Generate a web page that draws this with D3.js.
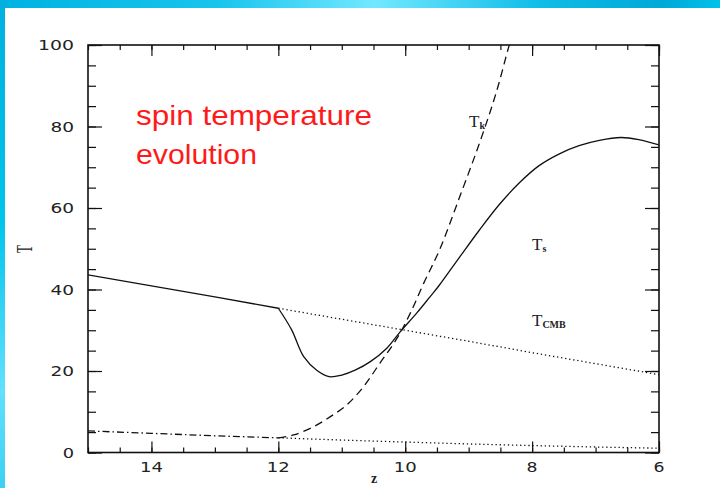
<!DOCTYPE html>
<html>
<head>
<meta charset="utf-8">
<script src="https://cdn.jsdelivr.net/npm/d3@7"></script>
<style>
  body { margin: 0; background: #fff; }
  svg { display: block; }
</style>
</head>
<body>
<div id="spin-chart"></div>
<script>
// spin temperature evolution - T vs z

// ---- data ----
// Ts, coupled to Tcmb at high z
var tsHighZ = [15, 14, 13, 12]
var tsHighT = [43.6, 40.9, 38.2, 35.4]
// Ts after the drop
var tsLowZ = [12, 11.79, 11.6, 11.39, 11.2, 11.0, 10.79, 10.55, 10.29, 10.08, 9.82, 9.61, 9.46, 9.14, 8.83, 8.52, 8.2, 7.89, 7.57, 7.26, 6.94, 6.6, 6.32, 6]
var tsLowT = [35.4, 30.1, 23.5, 20.1, 18.6, 19.0, 20.2, 22.3, 25.6, 29.6, 34.2, 38.2, 41.1, 48.0, 54.6, 60.8, 66.2, 70.4, 73.3, 75.3, 76.6, 77.3, 76.8, 75.5]
// Tcmb continued (dotted)
var cmbZ = [12, 11, 10, 9, 8, 7, 6]
var cmbT = [35.4, 32.7, 30.0, 27.3, 24.5, 21.8, 19.1]
// Tk adiabatic before heating (dash-dot)
var tkAdiaZ = [15, 14, 13, 12]
var tkAdiaT = [5.3, 4.7, 4.1, 3.6]
// Tk without heating (dotted)
var tkColdZ = [12, 11, 10, 9, 8, 7, 6]
var tkColdT = [3.6, 3.05, 2.56, 2.1, 1.7, 1.35, 1.05]
// Tk heated (dashed)
var tkHotZ = [12, 11.76, 11.45, 11.18, 10.92, 10.66, 10.4, 10.13, 9.92, 9.71, 9.46, 9.14, 8.83, 8.57, 8.36, 8.28]
var tkHotT = [3.6, 4.3, 6.3, 8.8, 11.7, 16.1, 21.9, 28.0, 34.2, 41.5, 49.7, 62.8, 75.9, 88.1, 100, 104]

var xTicks = [14, 12, 10, 8, 6]
var yTicks = [0, 20, 40, 60, 80, 100]

var title = ["spin temperature", "evolution"]

function pairs(zs, ts) {
  return zs.map(function(z, i) { return {z: z, t: ts[i]} })
}

var W = 720, H = 488
var plot = {left: 88, right: 659, top: 45, bottom: 452.5}

var svg = d3.select("#spin-chart")
  .append("svg")
    .attr("width", W)
    .attr("height", H)

// ---- slide background: blue strips top and left ----
var defs = svg.append("defs")
var gTop = defs.append("linearGradient").attr("id", "bandTop")
  .attr("x1", "0").attr("x2", "1").attr("y1", "0").attr("y2", "0")
gTop.append("stop").attr("offset", "0").attr("stop-color", "#00b2e2")
gTop.append("stop").attr("offset", "0.3").attr("stop-color", "#18c4ec")
gTop.append("stop").attr("offset", "0.52").attr("stop-color", "#72e8ff")
gTop.append("stop").attr("offset", "0.75").attr("stop-color", "#10bce8")
gTop.append("stop").attr("offset", "0.92").attr("stop-color", "#00a8d8")
gTop.append("stop").attr("offset", "1").attr("stop-color", "#00c2ea")

var gLeft = defs.append("linearGradient").attr("id", "bandLeft")
  .attr("x1", "0").attr("x2", "0").attr("y1", "0").attr("y2", "1")
gLeft.append("stop").attr("offset", "0").attr("stop-color", "#00b0e0")
gLeft.append("stop").attr("offset", "0.45").attr("stop-color", "#00c4ea")
gLeft.append("stop").attr("offset", "0.8").attr("stop-color", "#62e0ff")
gLeft.append("stop").attr("offset", "1").attr("stop-color", "#3cd0f2")

svg.append("rect").attr("x", 0).attr("y", 0).attr("width", W).attr("height", 8)
  .style("fill", "url(#bandTop)")
svg.append("rect").attr("x", 0).attr("y", 0).attr("width", 5).attr("height", H)
  .style("fill", "url(#bandLeft)")

// ---- scales ----
var x = d3.scaleLinear().domain([15, 6]).range([plot.left, plot.right])
var y = d3.scaleLinear().domain([0, 100]).range([plot.bottom, plot.top])

defs.append("clipPath").attr("id", "plotClip")
  .append("rect")
    .attr("x", plot.left).attr("y", plot.top)
    .attr("width", plot.right - plot.left)
    .attr("height", plot.bottom - plot.top)

// ---- frame + ticks on all four sides (pointing in) ----
var frame = svg.append("g")

var xMinor = d3.range(15, 5.9, -0.5)
var yMinor = d3.range(0, 100.1, 5)

frame.append("g")
  .attr("transform", "translate(0," + plot.bottom + ")")
  .call(d3.axisTop(x).tickValues(xMinor).tickSize(5).tickFormat(""))
frame.append("g")
  .attr("transform", "translate(0," + plot.bottom + ")")
  .call(d3.axisTop(x).tickValues(xTicks).tickSize(11).tickFormat(""))
frame.append("g")
  .attr("transform", "translate(0," + plot.top + ")")
  .call(d3.axisBottom(x).tickValues(xMinor).tickSize(5).tickFormat(""))
frame.append("g")
  .attr("transform", "translate(0," + plot.top + ")")
  .call(d3.axisBottom(x).tickValues(xTicks).tickSize(11).tickFormat(""))

frame.append("g")
  .attr("transform", "translate(" + plot.left + ",0)")
  .call(d3.axisRight(y).tickValues(yMinor).tickSize(8).tickFormat(""))
frame.append("g")
  .attr("transform", "translate(" + plot.left + ",0)")
  .call(d3.axisRight(y).tickValues(yTicks).tickSize(14).tickFormat(""))
frame.append("g")
  .attr("transform", "translate(" + plot.right + ",0)")
  .call(d3.axisLeft(y).tickValues(yMinor).tickSize(8).tickFormat(""))
frame.append("g")
  .attr("transform", "translate(" + plot.right + ",0)")
  .call(d3.axisLeft(y).tickValues(yTicks).tickSize(14).tickFormat(""))

frame.selectAll(".domain").remove()
frame.selectAll("line").attr("stroke", "#111").attr("stroke-width", 1.2)

frame.append("rect")
  .attr("x", plot.left).attr("y", plot.top)
  .attr("width", plot.right - plot.left)
  .attr("height", plot.bottom - plot.top)
  .style("fill", "none")
  .style("stroke", "#111")
  .style("stroke-width", 1.6)

// tick labels (wide, rounded digits)
var labelFont = "'DejaVu Sans', sans-serif"
svg.selectAll("xlab")
  .data(xTicks)
  .enter()
  .append("text")
    .attr("x", function(d) { return x(d) })
    .attr("y", 472)
    .attr("text-anchor", "middle")
    .attr("textLength", function(d) { return String(d).length * 12 - 1 })
    .attr("lengthAdjust", "spacingAndGlyphs")
    .style("font-family", labelFont)
    .style("font-size", "14px")
    .style("fill", "#222")
    .text(function(d) { return d })

svg.selectAll("ylab")
  .data(yTicks)
  .enter()
  .append("text")
    .attr("x", 74)
    .attr("y", function(d) { return y(d) + 5 })
    .attr("text-anchor", "end")
    .attr("textLength", function(d) { return String(d).length * 12.3 - 1 })
    .attr("lengthAdjust", "spacingAndGlyphs")
    .style("font-family", labelFont)
    .style("font-size", "14px")
    .style("fill", "#222")
    .text(function(d) { return d })

// axis titles
svg.append("text")
  .attr("x", 374).attr("y", 483)
  .attr("text-anchor", "middle")
  .style("font-family", "'Liberation Serif', serif")
  .style("font-size", "14px")
  .style("font-weight", "bold")
  .style("fill", "#222")
  .text("z")

svg.append("text")
  .attr("transform", "translate(32,249) rotate(-90)")
  .attr("text-anchor", "middle")
  .attr("textLength", 8)
  .attr("lengthAdjust", "spacingAndGlyphs")
  .style("font-family", "'Liberation Serif', serif")
  .style("font-size", "24px")
  .style("fill", "#222")
  .text("T")

// ---- curves ----
var line = d3.line()
  .x(function(d) { return x(d.z) })
  .y(function(d) { return y(d.t) })
var smooth = d3.line()
  .x(function(d) { return x(d.z) })
  .y(function(d) { return y(d.t) })
  .curve(d3.curveCatmullRom.alpha(0.5))

var curves = svg.append("g").attr("clip-path", "url(#plotClip)")

var series = [
  {name: "tsHigh", d: line(pairs(tsHighZ, tsHighT)), dash: null},
  {name: "tsLow", d: smooth(pairs(tsLowZ, tsLowT)), dash: null},
  {name: "cmb", d: line(pairs(cmbZ, cmbT)), dash: "1.3,2.8"},
  {name: "tkAdia", d: line(pairs(tkAdiaZ, tkAdiaT)), dash: "7,3,1.5,3"},
  {name: "tkCold", d: line(pairs(tkColdZ, tkColdT)), dash: "1.3,2.8"},
  {name: "tkHot", d: smooth(pairs(tkHotZ, tkHotT)), dash: "8,5"}
]

curves.selectAll("myLines")
  .data(series)
  .enter()
  .append("path")
    .attr("class", function(d) { return d.name })
    .attr("d", function(d) { return d.d })
    .attr("stroke", "#111")
    .attr("stroke-dasharray", function(d) { return d.dash })
    .style("stroke-width", 1.3)
    .style("fill", "none")

// ---- curve labels ----
var labels = [
  {main: "T", sub: "k", x: 469, y: 127},
  {main: "T", sub: "s", x: 532, y: 250},
  {main: "T", sub: "CMB", x: 532, y: 326}
]
var lab = svg.selectAll("curveLab")
  .data(labels)
  .enter()
  .append("text")
    .attr("x", function(d) { return d.x })
    .attr("y", function(d) { return d.y })
    .style("font-family", "'Liberation Serif', serif")
    .style("fill", "#222")
lab.append("tspan")
  .style("font-size", "17px")
  .text(function(d) { return d.main })
lab.append("tspan")
  .attr("dy", 2)
  .style("font-size", "10px")
  .style("font-weight", "bold")
  .text(function(d) { return d.sub })

// ---- red title ----
svg.selectAll("titleLines")
  .data(title)
  .enter()
  .append("text")
    .attr("x", 136)
    .attr("y", function(d, i) { return 125 + i * 38.5 })
    .attr("textLength", function(d, i) { return i == 0 ? 236 : 121 })
    .attr("lengthAdjust", "spacingAndGlyphs")
    .style("font-family", "'Liberation Sans', Arial, sans-serif")
    .style("font-size", "28px")
    .style("fill", "#ff1a1a")
    .text(function(d) { return d })
</script>
</body>
</html>
